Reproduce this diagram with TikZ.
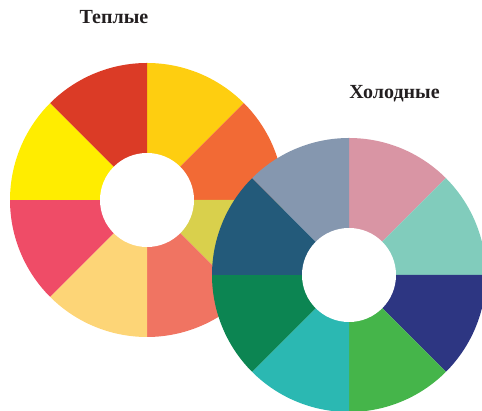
\documentclass[tikz,border=0pt]{standalone}
\usepackage{fontspec}
\setmainfont{Liberation Serif}
\usepackage{tikz}
\usetikzlibrary{positioning}

\definecolor{warmGold}{HTML}{FECE10}
\definecolor{warmOrange}{HTML}{F26A35}
\definecolor{warmOlive}{HTML}{D9D04C}
\definecolor{warmSalmon}{HTML}{F07462}
\definecolor{warmSand}{HTML}{FDD577}
\definecolor{warmRose}{HTML}{EF4C67}
\definecolor{warmYellow}{HTML}{FFED00}
\definecolor{warmRed}{HTML}{DB3B26}
\definecolor{coldPink}{HTML}{D995A4}
\definecolor{coldMint}{HTML}{81CCBC}
\definecolor{coldNavy}{HTML}{2D3682}
\definecolor{coldGreen}{HTML}{45B54A}
\definecolor{coldTeal}{HTML}{2BB8B2}
\definecolor{coldForest}{HTML}{0C8552}
\definecolor{coldPetrol}{HTML}{235A7A}
\definecolor{coldSlate}{HTML}{8597AF}
\definecolor{titleInk}{HTML}{231F20}

\begin{document}
\begin{tikzpicture}[
    x=1pt,
    y=1pt,
    title/.style={
        text=titleInk,
        inner sep=0pt,
        font=\fontsize{20}{23}\selectfont\bfseries
    },
    hole/.style={fill=white}
]
    \useasboundingbox (0,0) rectangle (482,411);

    % Centres
    \coordinate (warm) at (147,211);
    \coordinate (cold) at (349,136);

    % Warm wheel
    \fill[warmGold] (warm) -- ++(45:137) arc[start angle=45, end angle=90, radius=137] -- cycle;
    \fill[warmOrange] (warm) -- ++(0:137) arc[start angle=0, end angle=45, radius=137] -- cycle;
    \fill[warmOlive] (warm) -- ++(-45:137) arc[start angle=-45, end angle=0, radius=137] -- cycle;
    \fill[warmSalmon] (warm) -- ++(-90:137) arc[start angle=-90, end angle=-45, radius=137] -- cycle;
    \fill[warmSand] (warm) -- ++(-135:137) arc[start angle=-135, end angle=-90, radius=137] -- cycle;
    \fill[warmRose] (warm) -- ++(180:137) arc[start angle=180, end angle=225, radius=137] -- cycle;
    \fill[warmYellow] (warm) -- ++(135:137) arc[start angle=135, end angle=180, radius=137] -- cycle;
    \fill[warmRed] (warm) -- ++(90:137) arc[start angle=90, end angle=135, radius=137] -- cycle;
    \fill[hole] (warm) circle[radius=47];

    % Cold wheel
    \fill[coldPink] (cold) -- ++(45:137) arc[start angle=45, end angle=90, radius=137] -- cycle;
    \fill[coldMint] (cold) -- ++(0:137) arc[start angle=0, end angle=45, radius=137] -- cycle;
    \fill[coldNavy] (cold) -- ++(-45:137) arc[start angle=-45, end angle=0, radius=137] -- cycle;
    \fill[coldGreen] (cold) -- ++(-90:137) arc[start angle=-90, end angle=-45, radius=137] -- cycle;
    \fill[coldTeal] (cold) -- ++(-135:137) arc[start angle=-135, end angle=-90, radius=137] -- cycle;
    \fill[coldForest] (cold) -- ++(180:137) arc[start angle=180, end angle=225, radius=137] -- cycle;
    \fill[coldPetrol] (cold) -- ++(135:137) arc[start angle=135, end angle=180, radius=137] -- cycle;
    \fill[coldSlate] (cold) -- ++(90:137) arc[start angle=90, end angle=135, radius=137] -- cycle;
    \fill[hole] (cold) circle[radius=47];

    % Titles
    \node[title] (warmtitle) at (114,394) {Теплые};
    \node[title] (coldtitle) at (394.5,317) {Холодные};
\end{tikzpicture}
\end{document}
